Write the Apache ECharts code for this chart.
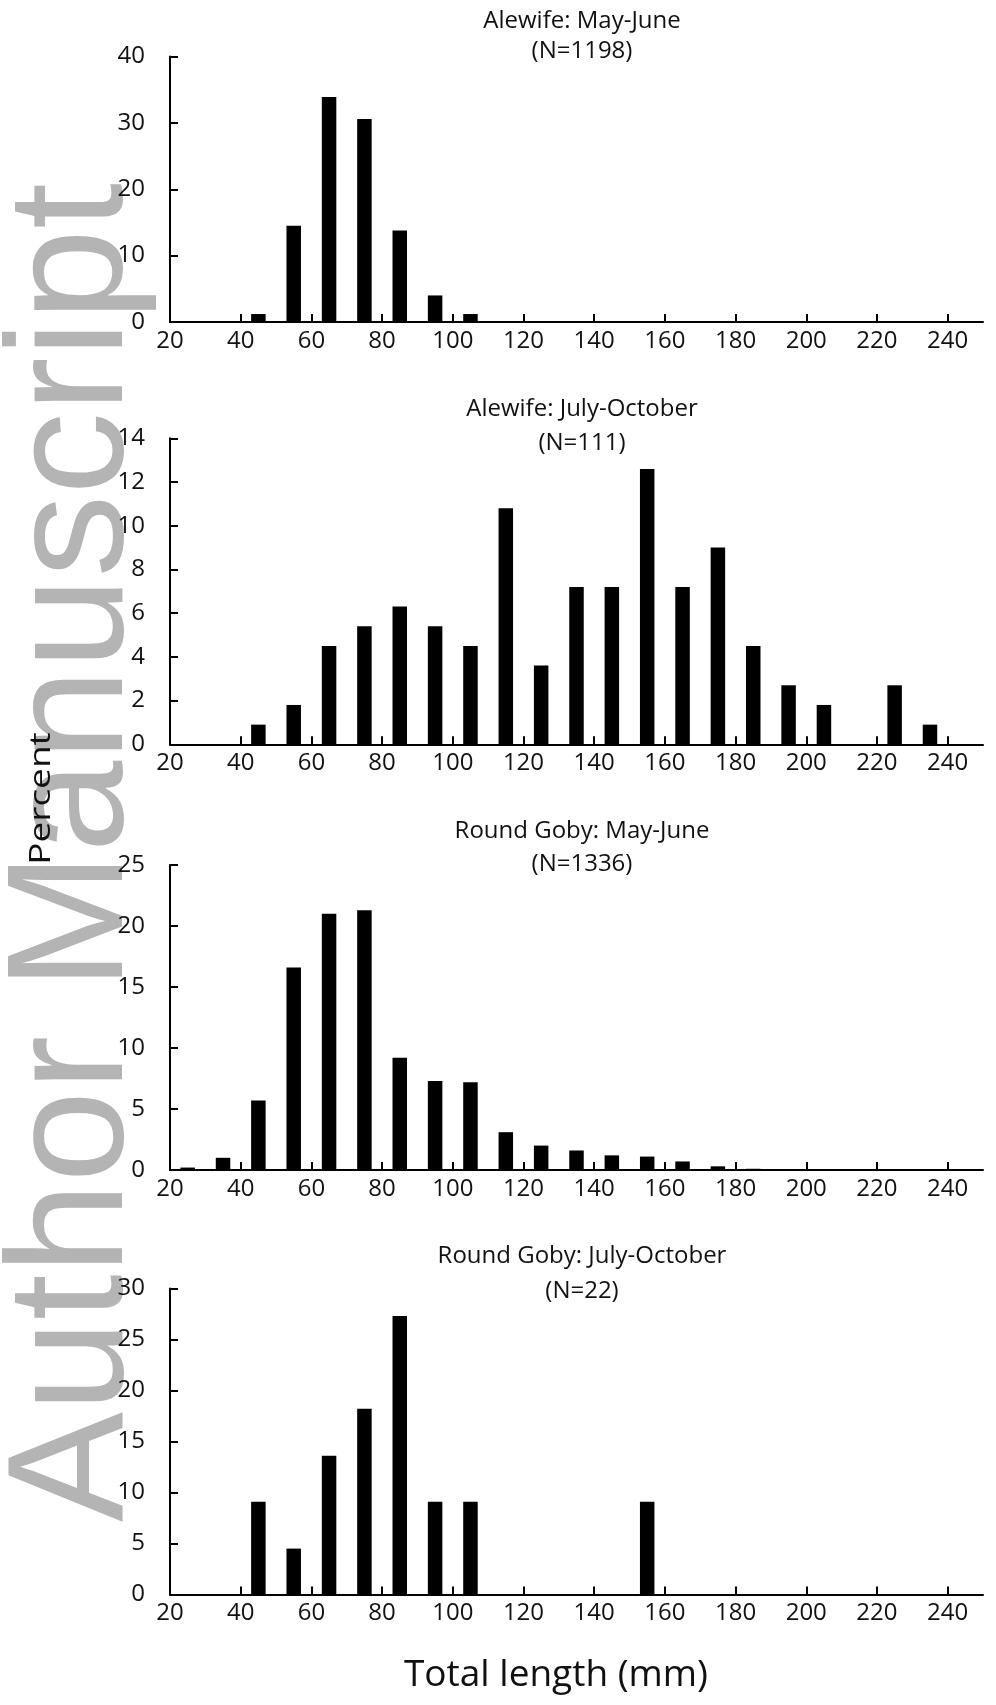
<!DOCTYPE html>
<html><head><meta charset="utf-8">
<script src="https://cdn.jsdelivr.net/npm/echarts@6/dist/echarts.min.js"></script>
<style>html,body{margin:0;padding:0;background:#fff}#c{width:996px;height:1705px}</style>
</head><body><div id="c"></div>
<script>
// ---- data ----
const xTickValues = [20, 40, 60, 80, 100, 120, 140, 160, 180, 200, 220, 240];

const alewifeMayJuneLen = [45, 55, 65, 75, 85, 95, 105, 115, 125, 155];
const alewifeMayJunePct = [1.2, 14.5, 33.9, 30.6, 13.8, 4.0, 1.2, 0.15, 0.1, 0.1];

const alewifeJulOctLen = [45, 55, 65, 75, 85, 95, 105, 115, 125, 135, 145, 155, 165, 175, 185, 195, 205, 225, 235];
const alewifeJulOctPct = [0.9, 1.8, 4.5, 5.4, 6.3, 5.4, 4.5, 10.8, 3.6, 7.2, 7.2, 12.6, 7.2, 9.0, 4.5, 2.7, 1.8, 2.7, 0.9];

const gobyMayJuneLen = [25, 35, 45, 55, 65, 75, 85, 95, 105, 115, 125, 135, 145, 155, 165, 175, 185];
const gobyMayJunePct = [0.2, 1.0, 5.7, 16.6, 21.0, 21.3, 9.2, 7.3, 7.2, 3.1, 2.0, 1.6, 1.2, 1.1, 0.7, 0.3, 0.1];

const gobyJulOctLen = [45, 55, 65, 75, 85, 95, 105, 155];
const gobyJulOctPct = [9.1, 4.5, 13.6, 18.2, 27.3, 9.1, 9.1, 9.1];

const panelTitles = ['Alewife: May-June', 'Alewife: July-October', 'Round Goby: May-June', 'Round Goby: July-October'];
const panelN = ['(N=1198)', '(N=111)', '(N=1336)', '(N=22)'];
const yMax = [40, 14, 25, 30];
const yInterval = [10, 2, 5, 5];

// ---- layout ----
const panels = [
  {len: alewifeMayJuneLen, pct: alewifeMayJunePct, top: 56.5, height: 265.5, t1: 21.3, t2: 51.5},
  {len: alewifeJulOctLen, pct: alewifeJulOctPct, top: 438.3, height: 306, t1: 408.7, t2: 443},
  {len: gobyMayJuneLen, pct: gobyMayJunePct, top: 865, height: 305, t1: 831, t2: 864},
  {len: gobyJulOctLen, pct: gobyJulOctPct, top: 1288.5, height: 306, t1: 1256, t2: 1291.5}
];
const FONT = '"Open Sans", "Noto Sans", sans-serif';
const TXT = '#111';

const grid = [], xAxis = [], yAxis = [], series = [], graphics = [];
panels.forEach((p, i) => {
  grid.push({left: 170, width: 813, top: p.top, height: p.height});
  xAxis.push({
    type: 'value', gridIndex: i, min: 20, max: 250,
    axisLine: {show: true, lineStyle: {color: '#000', width: 2}},
    axisTick: {show: true, inside: true, length: 8, customValues: xTickValues, lineStyle: {color: '#000', width: 2}},
    axisLabel: {show: true, margin: 7, fontSize: 24, fontFamily: FONT, color: TXT, customValues: xTickValues},
    splitLine: {show: false}
  });
  yAxis.push({
    type: 'value', gridIndex: i, min: 0, max: yMax[i], interval: yInterval[i],
    axisLine: {show: true, lineStyle: {color: '#000', width: 2}},
    axisTick: {show: true, inside: true, length: 8, lineStyle: {color: '#000', width: 2}},
    axisLabel: {show: true, margin: 25, fontSize: 24, fontFamily: FONT, color: TXT},
    splitLine: {show: false}
  });
  series.push({
    type: 'bar', xAxisIndex: i, yAxisIndex: i, barWidth: 14.5, barMinHeight: 1,
    itemStyle: {color: '#000'},
    data: p.len.map((x, j) => [x, p.pct[j]])
  });
  graphics.push({type: 'text', x: 582, y: p.t1, z: 10,
    style: {text: panelTitles[i], font: '24px ' + FONT, fill: TXT, align: 'center', verticalAlign: 'middle', textAlign: 'center', textVerticalAlign: 'middle'}});
  graphics.push({type: 'text', x: 582, y: p.t2, z: 10,
    style: {text: panelN[i], font: '24px ' + FONT, fill: TXT, align: 'center', verticalAlign: 'middle', textAlign: 'center', textVerticalAlign: 'middle'}});
});

// watermark
graphics.push({type: 'text', x: 76, y: 1522, rotation: Math.PI / 2, z: -10,
  style: {text: 'Author Manuscript', font: '165px "Liberation Sans", Arial, sans-serif', fill: '#b4b4b4',
    align: 'left', verticalAlign: 'middle', textAlign: 'left', textVerticalAlign: 'middle'}});
// axis titles
graphics.push({type: 'text', x: 42, y: 798.5, rotation: Math.PI / 2, scaleY: 0.8, z: 10,
  style: {text: 'Percent', font: '37px ' + FONT, fill: TXT, align: 'center', verticalAlign: 'middle', textAlign: 'center', textVerticalAlign: 'middle'}});
graphics.push({type: 'text', x: 556, y: 1675, z: 10,
  style: {text: 'Total length (mm)', font: '37px ' + FONT, fill: TXT, align: 'center', verticalAlign: 'middle', textAlign: 'center', textVerticalAlign: 'middle'}});

const chart = echarts.init(document.getElementById('c'), null, {renderer: 'canvas'});
chart.setOption({
  animation: false,
  backgroundColor: '#fff',
  grid, xAxis, yAxis, series,
  graphic: {elements: graphics}
});
</script></body></html>
